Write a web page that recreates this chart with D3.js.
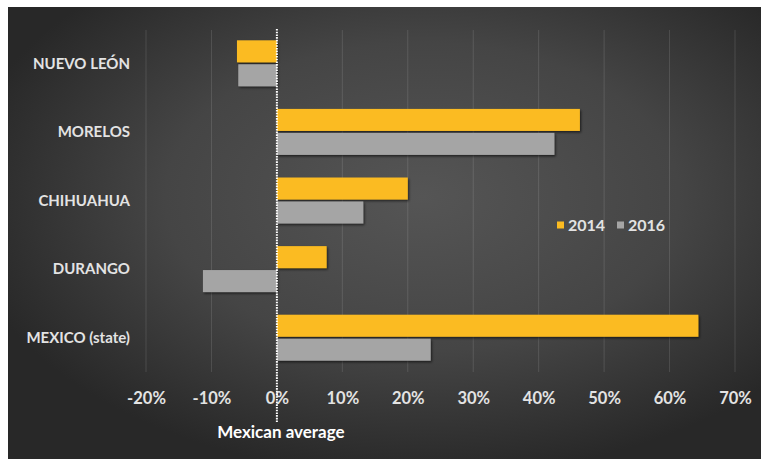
<!DOCTYPE html>
<html>
<head>
<meta charset="utf-8">
<script src="https://cdn.jsdelivr.net/npm/d3@7"></script>
<style>
  html, body { margin: 0; padding: 0; background: #fff; }
  svg { display: block; }
  text { font-family: Lato, "Open Sans", sans-serif; font-weight: bold; }
</style>
</head>
<body>
<svg></svg>
<script>
const categories = ["NUEVO LEÓN", "MORELOS", "CHIHUAHUA", "DURANGO", "MEXICO (state)"];
const series = ["2014", "2016"];
const values2014 = [-6.1, 46.3, 20.0, 7.6, 64.4];
const values2016 = [-5.9, 42.4, 13.2, -11.3, 23.5];
const xTicks = [-20, -10, 0, 10, 20, 30, 40, 50, 60, 70];
const colors = ["#fbbb21", "#a5a5a5"];

const width = 761;
const height = 459;

const svg = d3.select("svg")
    .attr("width", width)
    .attr("height", height);

const defs = svg.append("defs");

const grad = defs.append("radialGradient")
    .attr("id", "bg")
    .attr("cx", "55%").attr("cy", "42%").attr("r", "62%");
grad.append("stop").attr("offset", "0%").attr("stop-color", "#555555");
grad.append("stop").attr("offset", "55%").attr("stop-color", "#454545");
grad.append("stop").attr("offset", "100%").attr("stop-color", "#282828");

const shadow = defs.append("filter")
    .attr("id", "shadow")
    .attr("x", "-10%").attr("y", "-20%").attr("width", "130%").attr("height", "160%");
shadow.append("feDropShadow")
    .attr("dx", 1.2).attr("dy", 1.5)
    .attr("stdDeviation", 0.8)
    .attr("flood-color", "#000")
    .attr("flood-opacity", 0.6);

// panel
svg.append("rect")
    .attr("x", 8).attr("y", 7)
    .attr("width", width - 8).attr("height", height - 7)
    .attr("fill", "url(#bg)");

const x = d3.scaleLinear()
    .domain([-20, 70])
    .range([146, 735]);

const y = d3.scaleBand()
    .domain(categories)
    .range([29, 372])
    .paddingInner(0.33)
    .paddingOuter(0.165);

const ySub = d3.scaleBand()
    .domain(series)
    .range([0, y.bandwidth()])
    .paddingInner(0.08);

// gridlines
svg.append("g")
    .selectAll("line")
    .data(xTicks.filter(d => d !== 0))
    .join("line")
    .attr("x1", d => x(d)).attr("x2", d => x(d))
    .attr("y1", 30).attr("y2", 372)
    .attr("stroke", "#ffffff")
    .attr("stroke-opacity", 0.12)
    .attr("stroke-width", 1);

// bars
const rows = categories.map((c, i) => ({
    cat: c,
    vals: [values2014[i], values2016[i]]
}));

const group = svg.append("g")
    .selectAll("g")
    .data(rows)
    .join("g")
    .attr("transform", d => `translate(0,${y(d.cat)})`);

group.selectAll("rect")
    .data(d => d.vals.map((v, j) => ({ v, s: series[j], j })))
    .join("rect")
    .attr("x", d => x(Math.min(0, d.v)))
    .attr("width", d => Math.abs(x(d.v) - x(0)))
    .attr("y", d => ySub(d.s))
    .attr("height", ySub.bandwidth())
    .attr("fill", d => colors[d.j])
    .attr("filter", "url(#shadow)");

// category labels
svg.append("g")
    .selectAll("text")
    .data(categories)
    .join("text")
    .attr("x", 130)
    .attr("y", d => y(d) + y.bandwidth() / 2)
    .attr("dy", "0.35em")
    .attr("text-anchor", "end")
    .attr("fill", "#e3e3e3")
    .attr("font-size", 15)
    .text(d => d);

// x axis
const xAxis = svg.append("g")
    .attr("transform", "translate(0,389)")
    .call(d3.axisBottom(x).tickValues(xTicks).tickSize(0).tickFormat(d => d + "%"));
xAxis.select(".domain").remove();
xAxis.selectAll("text")
    .attr("fill", "#e3e3e3")
    .attr("font-size", 16.5)
    .attr("font-family", "Lato, 'Open Sans', sans-serif")
    .attr("font-weight", "bold");

// Mexican average line
svg.append("line")
    .attr("x1", x(0)).attr("x2", x(0))
    .attr("y1", 29).attr("y2", 422)
    .attr("stroke", "#ffffff")
    .attr("stroke-width", 2)
    .attr("stroke-dasharray", "1.6,1.1");

svg.append("text")
    .attr("x", x(0) + 4)
    .attr("y", 438)
    .attr("text-anchor", "middle")
    .attr("fill", "#ffffff")
    .attr("font-size", 17)
    .text("Mexican average");

// legend
const legend = svg.append("g")
    .attr("transform", "translate(557,225)");
const item = legend.selectAll("g")
    .data(series)
    .join("g")
    .attr("transform", (d, i) => `translate(${i * 60},0)`);
item.append("rect")
    .attr("x", 0).attr("y", -3.5)
    .attr("width", 7).attr("height", 7)
    .attr("fill", (d, i) => colors[i]);
item.append("text")
    .attr("x", 11)
    .attr("dy", "0.36em")
    .attr("fill", "#e3e3e3")
    .attr("font-size", 16)
    .text(d => d);
</script>
</body>
</html>
